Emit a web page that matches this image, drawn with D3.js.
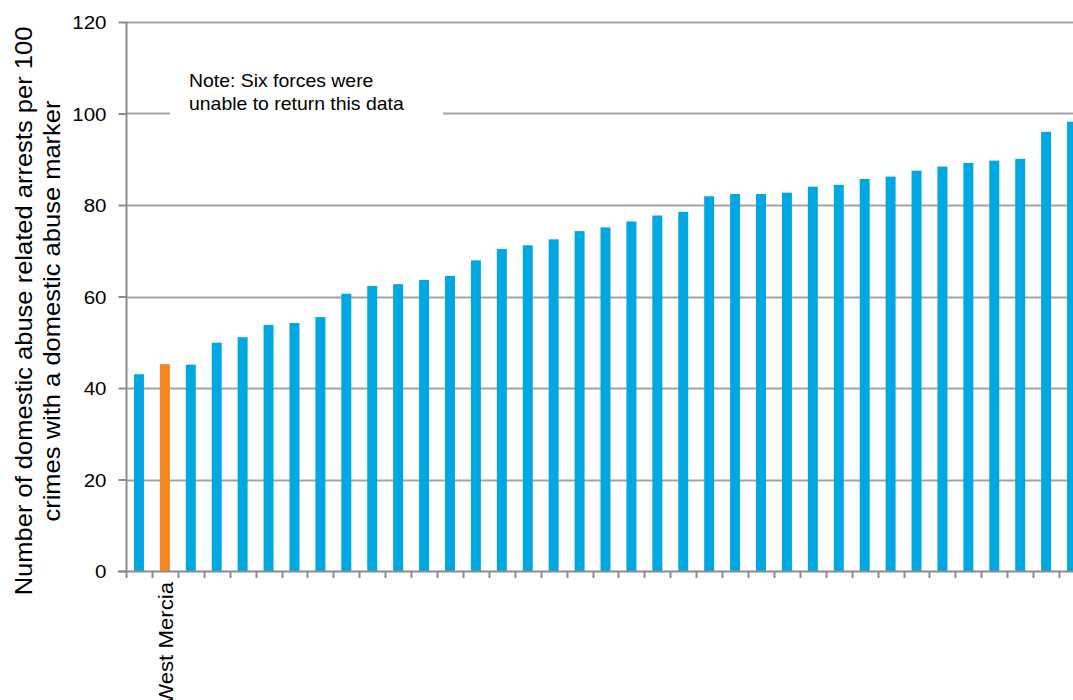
<!DOCTYPE html>
<html>
<head>
<meta charset="utf-8">
<script src="https://cdn.jsdelivr.net/npm/d3@7"></script>
<style>
  html, body { margin: 0; padding: 0; background: #fff; overflow: hidden; }
  svg { display: block; font-family: "Liberation Sans", Arial, sans-serif; }
</style>
</head>
<body>
<svg id="chart" width="1073" height="700"></svg>
<script>
// Forces ordered by rate; only the highlighted force carries a label
const forceLabels = ["", "West Mercia", "", "", "", "", "", "", "", "", "", "", "",
  "", "", "", "", "", "", "", "", "", "", "", "", "", "", "", "", "", "", "", "",
  "", "", "", ""];
const arrestsPer100 = [43.0, 45.2, 45.1, 49.9, 51.1, 53.8, 54.2, 55.5, 60.6, 62.3,
  62.7, 63.6, 64.5, 67.9, 70.4, 71.2, 72.5, 74.3, 75.1, 76.4, 77.7, 78.5, 81.9,
  82.4, 82.4, 82.7, 84.0, 84.4, 85.7, 86.2, 87.5, 88.4, 89.2, 89.7, 90.1, 96.0, 98.2];
const highlighted = ["West Mercia"];
const yTicks = [0, 20, 40, 60, 80, 100, 120];
const noteLines = ["Note: Six forces were", "unable to return this data"];
const yTitleLines = ["Number of domestic abuse related arrests  per 100",
  "crimes with a domestic abuse marker"];

const svg = d3.select("#chart");
const plotLeft = 126, plotRight = 1085, plotTop = 22, plotBottom = 571;
const widen = 1.11; // horizontal stretch of the label typeface

const x = d3.scaleBand()
  .domain(d3.range(arrestsPer100.length))
  .range([plotLeft, plotRight])
  .paddingInner(0.615)
  .paddingOuter(0.3075);

const y = d3.scaleLinear().domain([0, 120]).range([plotBottom, plotTop]);

const gridColor = "#a3a3a3";
const axisColor = "#8c8c8c";

// Horizontal gridlines
svg.append("g")
  .selectAll("line")
  .data(yTicks.filter(d => d > 0))
  .join("line")
  .attr("x1", plotLeft).attr("x2", plotRight)
  .attr("y1", d => Math.round(y(d)) + 0.5).attr("y2", d => Math.round(y(d)) + 0.5)
  .attr("stroke", gridColor).attr("stroke-width", 2);

// Note box sitting over the gridline
const note = svg.append("g");
note.append("rect")
  .attr("x", 170).attr("y", 64).attr("width", 273).attr("height", 60)
  .attr("fill", "#fff");
note.selectAll("text")
  .data(noteLines)
  .join("text")
  .attr("transform", (d, i) => `translate(189,${86.5 + i * 23.3}) scale(${widen},1)`)
  .attr("font-size", 17.5)
  .attr("fill", "#000")
  .text(d => d);

// Bars
svg.append("g")
  .selectAll("rect")
  .data(arrestsPer100)
  .join("rect")
  .attr("x", (d, i) => x(i))
  .attr("width", x.bandwidth())
  .attr("y", d => y(d))
  .attr("height", d => y(0) - y(d))
  .attr("fill", (d, i) => highlighted.includes(forceLabels[i]) ? "#f4861f" : "#00a8e2");

// Y axis
const yAxis = svg.append("g")
  .attr("transform", `translate(${plotLeft + 0.5},0)`)
  .call(d3.axisLeft(y).tickValues(yTicks).tickSize(8).tickPadding(12));
yAxis.select(".domain").attr("stroke", axisColor).attr("stroke-width", 2)
  .attr("d", `M0,${plotTop}V${plotBottom}`);
yAxis.selectAll(".tick line").attr("stroke", axisColor).attr("stroke-width", 2);
yAxis.selectAll(".tick text")
  .attr("x", null)
  .attr("dy", null)
  .attr("transform", `translate(-20,6.5) scale(${widen},1)`)
  .attr("font-size", 18.5).attr("fill", "#000")
  .attr("font-family", "Liberation Sans, Arial, sans-serif");

// X axis: ticks at band boundaries
const boundaries = d3.range(arrestsPer100.length + 1).map(i => plotLeft + i * x.step());
const xg = svg.append("g");
xg.append("line")
  .attr("x1", plotLeft - 8).attr("x2", plotRight)
  .attr("y1", plotBottom + 0.5).attr("y2", plotBottom + 0.5)
  .attr("stroke", axisColor).attr("stroke-width", 2);
xg.selectAll("line.tk")
  .data(boundaries)
  .join("line")
  .attr("class", "tk")
  .attr("x1", d => Math.round(d) + 0.5).attr("x2", d => Math.round(d) + 0.5)
  .attr("y1", plotBottom).attr("y2", plotBottom + 7)
  .attr("stroke", axisColor).attr("stroke-width", 2);

// Category labels, rotated
xg.selectAll("text")
  .data(forceLabels)
  .join("text")
  .attr("transform", (d, i) =>
    `translate(${x(i) + x.bandwidth() / 2 + 8.5},${plotBottom + 11}) rotate(-90) scale(${widen},1)`)
  .attr("text-anchor", "end")
  .attr("font-size", 20)
  .attr("fill", "#000")
  .text(d => d);

// Y axis title
svg.append("g")
  .attr("transform", "translate(0,311) rotate(-90)")
  .selectAll("text")
  .data(yTitleLines)
  .join("text")
  .attr("transform", (d, i) => `translate(0,${32 + i * 28}) scale(${widen},1)`)
  .attr("text-anchor", "middle")
  .attr("font-size", 23)
  .attr("fill", "#000")
  .text(d => d);
</script>
</body>
</html>
